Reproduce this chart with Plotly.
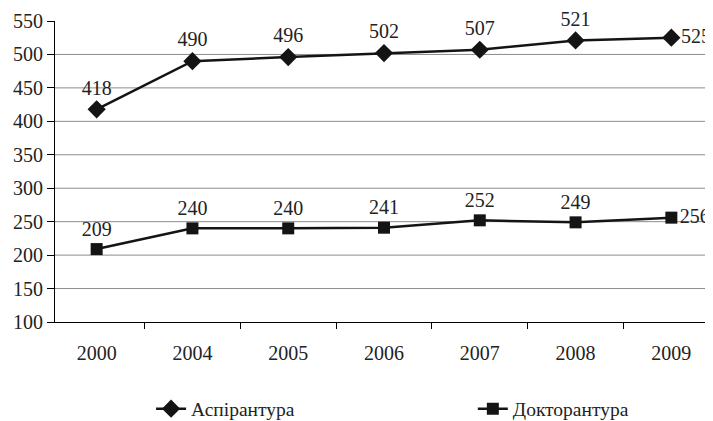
import plotly.graph_objects as go

years = ["2000", "2004", "2005", "2006", "2007", "2008", "2009"]
aspirantura = [418, 490, 496, 502, 507, 521, 525]
doktorantura = [209, 240, 240, 241, 252, 249, 256]
y_ticks = [100, 150, 200, 250, 300, 350, 400, 450, 500, 550]
grid_values = [150, 200, 250, 300, 350, 400, 450, 500]

FONT = "Liberation Serif, Times New Roman, DejaVu Serif, serif"
positions = ["top center"] * (len(years) - 1) + ["middle right"]

fig = go.Figure()
fig.add_trace(go.Scatter(
    x=years, y=aspirantura, name="Аспірантура",
    mode="lines+markers+text",
    line=dict(color="#141414", width=2.5),
    marker=dict(symbol="diamond", size=14, color="#141414"),
    text=[str(v) for v in aspirantura], textposition=positions,
    textfont=dict(family=FONT, size=20, color="#222"),
    cliponaxis=False, legend="legend",
))
fig.add_trace(go.Scatter(
    x=years, y=doktorantura, name="Докторантура",
    mode="lines+markers+text",
    line=dict(color="#141414", width=2.5),
    marker=dict(symbol="square", size=12, color="#141414"),
    text=[str(v) for v in doktorantura], textposition=positions,
    textfont=dict(family=FONT, size=20, color="#222"),
    cliponaxis=False, legend="legend2",
))

for g in grid_values:
    fig.add_shape(type="line", xref="paper", x0=0, x1=1, yref="y", y0=g, y1=g,
                  line=dict(color="#8c8c8c", width=1), layer="below")

legend_common = dict(orientation="h", yanchor="middle", y=-0.289, xanchor="left",
                     bgcolor="rgba(0,0,0,0)", borderwidth=0,
                     font=dict(family=FONT, size=19.5, color="#222"))

# the page body has an 8px margin, so the figure is sized to fit inside the window
fig.update_layout(
    width=705, height=413,
    margin=dict(l=47, r=0, t=13, b=99, autoexpand=False),
    paper_bgcolor="white", plot_bgcolor="white",
    font=dict(family=FONT, size=20, color="#222"),
    showlegend=True,
    legend=dict(x=0.146, **legend_common),
    legend2=dict(x=0.635, **legend_common),
    xaxis=dict(type="category", showline=True, linecolor="black", linewidth=1,
               ticks="outside", tickson="boundaries", ticklen=6, tickcolor="black",
               showgrid=False, ticklabelstandoff=13, automargin=False,
               tickfont=dict(family=FONT, size=20, color="#222")),
    yaxis=dict(range=[100, 550], tickvals=y_ticks, showline=True, linecolor="black",
               linewidth=1, ticks="outside", ticklen=7, tickcolor="black",
               showgrid=False, zeroline=False, automargin=False,
               tickfont=dict(family=FONT, size=20, color="#222")),
)

fig.write_html("out.html")
